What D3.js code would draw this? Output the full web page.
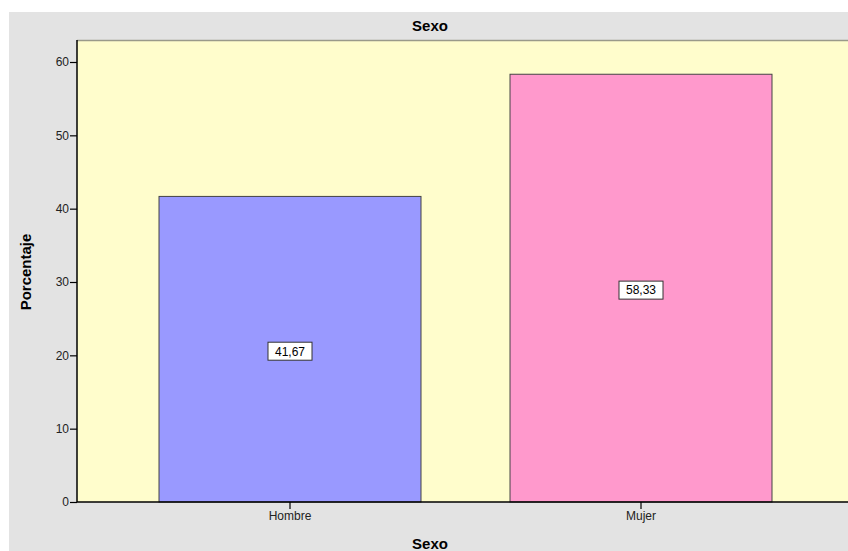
<html>
<head>
<script src="https://d3js.org/d3.v7.min.js"></script>
<style>
  body { margin:0; background:#fff; }
  svg { font-family: "Liberation Sans", Arial, sans-serif; }
</style>
</head>
<body>
<svg id="chart1" width="848" height="551"></svg>
<script>
  // data
  var categories = ["Hombre", "Mujer"];
  var percents = [41.67, 58.33];
  var barLabels = ["41,67", "58,33"];
  var barColors = ["#9999FF", "#FF99CC"];
  var yTicks = [0, 10, 20, 30, 40, 50, 60];

  var svg = d3.select("#chart1");

  // grey panel
  svg.append("rect")
    .attr("x", 9).attr("y", 12)
    .attr("width", 839).attr("height", 539)
    .attr("fill", "#E3E3E3");

  var plot = {left: 77, top: 40, right: 848, bottom: 502};

  var y = d3.scaleLinear().domain([0, 63]).range([plot.bottom, plot.top]);
  var x = d3.scaleBand().domain(categories)
    .range([114.5, 816.5])
    .paddingInner(0.2536)
    .paddingOuter(0.1268);

  // plot background
  svg.append("rect")
    .attr("x", plot.left).attr("y", plot.top)
    .attr("width", plot.right - plot.left).attr("height", plot.bottom - plot.top)
    .attr("fill", "#FFFDCC");
  svg.append("line")
    .attr("x1", plot.left).attr("x2", plot.right)
    .attr("y1", plot.top + 0.5).attr("y2", plot.top + 0.5)
    .attr("stroke", "#9a9a8a").attr("stroke-width", 1.5);

  // bars
  svg.append("g").selectAll("rect").data(percents).enter()
    .append("rect")
      .attr("x", function(d, i) { return x(categories[i]); })
      .attr("y", function(d) { return y(d); })
      .attr("width", x.bandwidth())
      .attr("height", function(d) { return y(0) - y(d); })
      .attr("fill", function(d, i) { return barColors[i]; })
      .attr("stroke", "#444")
      .attr("stroke-width", 1);

  // value labels with boxes
  var lab = svg.append("g").selectAll("g").data(percents).enter()
    .append("g")
      .attr("transform", function(d, i) {
        return "translate(" + (x(categories[i]) + x.bandwidth() / 2) + "," + (y(d / 2) + 2) + ")";
      });
  lab.append("rect")
    .attr("x", -22).attr("y", -9)
    .attr("width", 44).attr("height", 18)
    .attr("fill", "#fff")
    .attr("stroke", "#333").attr("stroke-width", 1);
  lab.append("text")
    .attr("text-anchor", "middle")
    .attr("dy", "0.36em")
    .style("font-size", "12px")
    .attr("fill", "#000")
    .text(function(d, i) { return barLabels[i]; });

  // y axis
  var yAxis = svg.append("g")
    .attr("transform", "translate(" + plot.left + ",0)")
    .call(d3.axisLeft(y).tickValues(yTicks).tickSize(7).tickSizeOuter(0));
  yAxis.select(".domain").remove();
  yAxis.append("line")
    .attr("x1", 0).attr("x2", 0)
    .attr("y1", plot.top).attr("y2", plot.bottom)
    .attr("stroke", "#000").attr("stroke-width", 1.5);
  yAxis.selectAll(".tick line").attr("stroke", "#000").attr("stroke-width", 1.2);
  yAxis.selectAll(".tick text")
    .style("font-size", "12px").style("font-family", "Liberation Sans, Arial, sans-serif")
    .attr("fill", "#222").attr("x", -8);

  // x axis
  var xAxis = svg.append("g")
    .attr("transform", "translate(0," + plot.bottom + ")")
    .call(d3.axisBottom(x).tickSize(7).tickSizeOuter(0));
  xAxis.select(".domain").remove();
  xAxis.append("line")
    .attr("x1", plot.left).attr("x2", plot.right)
    .attr("y1", 0).attr("y2", 0)
    .attr("stroke", "#000").attr("stroke-width", 1.5);
  xAxis.selectAll(".tick line").attr("stroke", "#000").attr("stroke-width", 1.2);
  xAxis.selectAll(".tick text")
    .style("font-size", "12px").style("font-family", "Liberation Sans, Arial, sans-serif")
    .attr("fill", "#222").attr("y", 9);

  // title
  svg.append("text")
    .attr("x", 430).attr("y", 31)
    .attr("text-anchor", "middle")
    .style("font-size", "15px").style("font-weight", "bold")
    .text("Sexo");

  // axis titles
  svg.append("text")
    .attr("x", 430).attr("y", 549)
    .attr("text-anchor", "middle")
    .style("font-size", "15px").style("font-weight", "bold")
    .text("Sexo");
  svg.append("text")
    .attr("transform", "translate(31,272) rotate(-90)")
    .attr("text-anchor", "middle")
    .style("font-size", "15px").style("font-weight", "bold")
    .text("Porcentaje");
</script>
</body>
</html>
